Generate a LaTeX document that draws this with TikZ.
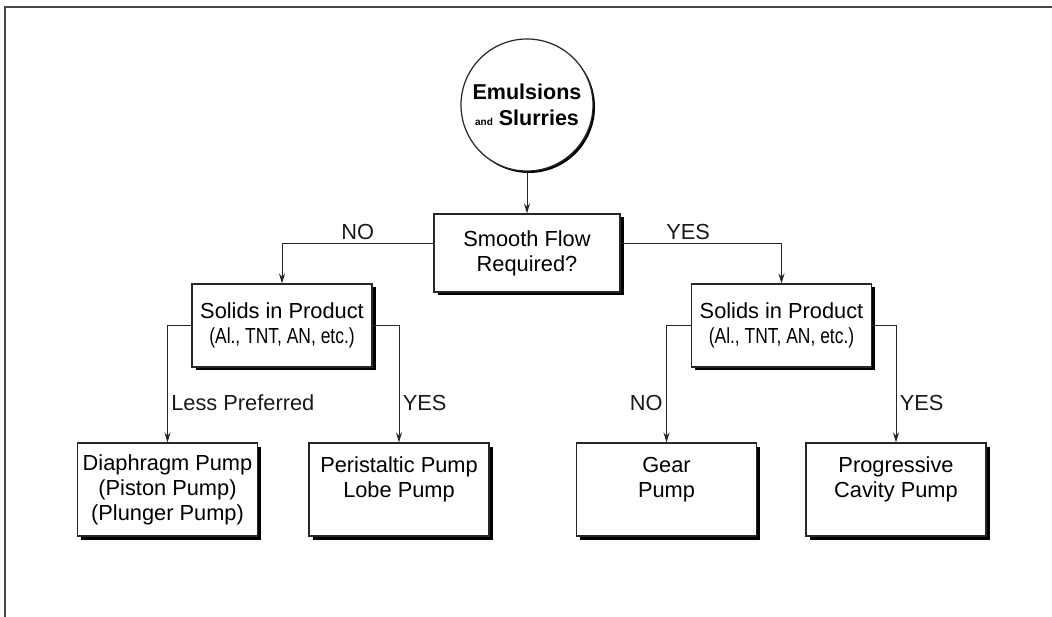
\documentclass[tikz,border=0pt]{standalone}
\usepackage{fontspec}
\usepackage{graphicx}
\setmainfont{Liberation Sans}
\usetikzlibrary{arrows.meta,shadows,positioning}

\tikzset{
    pumpbox/.style={draw=black!85, line width=1.1pt, fill=white, minimum width=180pt,
        align=center, inner sep=4pt, font=\fontsize{21.8}{25}\selectfont,
        drop shadow={shadow xshift=3.5pt, shadow yshift=-3.5pt, opacity=1, fill=black}},
    flow/.style={draw=black!85, line width=1pt, -{Stealth[length=10pt,width=6pt]}},
    answer/.style={font=\fontsize{21.8}{25}\selectfont, text=black!90},
}

\begin{document}
\begin{tikzpicture}[x=1pt, y=-1pt]
    % Page and the open frame (top and left edge only)
    \useasboundingbox (0,0) rectangle (1052,617);
    \draw[black!72, line width=2pt] (1052,7.5) -- (4.5,7.5) -- (4.5,617);

    % Start: the circle
    \node[circle, draw=black!85, line width=1.2pt, fill=white, minimum size=132pt, inner sep=0pt,
          align=center, font=\fontsize{21.5}{26}\selectfont\bfseries,
          drop shadow={shadow xshift=2pt, shadow yshift=-2pt, opacity=1, fill=black}]
        (emul) at (527,105) {Emulsions\\{\fontsize{10}{10}\selectfont and} Slurries};

    % First question
    \node[pumpbox, minimum width=186pt, minimum height=78pt] (smooth) at (527,253) {Smooth Flow\\Required?};

    % Second level: solids in the product
    \node[pumpbox, minimum height=83pt] (solidsL) at (282,325.5) {Solids in Product\\\scalebox{0.8}[1]{(Al., TNT, AN, etc.)}};
    \node[pumpbox, minimum height=83pt] (solidsR) at (781.5,325.5) {Solids in Product\\\scalebox{0.8}[1]{(Al., TNT, AN, etc.)}};

    % The pumps
    \node[pumpbox, minimum height=93pt] (diaph) at (167.5,489.5) {Diaphragm Pump\\(Piston Pump)\\(Plunger Pump)};
    \node[pumpbox, minimum height=93pt] (peri) at (399,489.5) {Peristaltic Pump\\Lobe Pump\\\mbox{}};
    \node[pumpbox, minimum height=93pt] (gear) at (666.5,489.5) {Gear\\Pump\\\mbox{}};
    \node[pumpbox, minimum height=93pt] (prog) at (896,489.5) {Progressive\\Cavity Pump\\\mbox{}};

    % Connectors
    \draw[flow] (emul) -- (smooth);
    \draw[flow] ([yshift=9pt]smooth.west) -| node[pos=0.25, above, answer] {NO} (solidsL.north);
    \draw[flow] ([yshift=9pt]smooth.east) -| node[pos=0.21, above, answer] {YES} (solidsR.north);
    \draw[flow] (solidsL.west) -| node[pos=0.83, right, answer] {Less Preferred} (diaph.north);
    \draw[flow] (solidsL.east) -| node[pos=0.83, right, answer] {YES} (peri.north);
    \draw[flow] (solidsR.west) -| node[pos=0.83, left, answer] {NO} (gear.north);
    \draw[flow] (solidsR.east) -| node[pos=0.83, right, answer] {YES} (prog.north);
\end{tikzpicture}
\end{document}
